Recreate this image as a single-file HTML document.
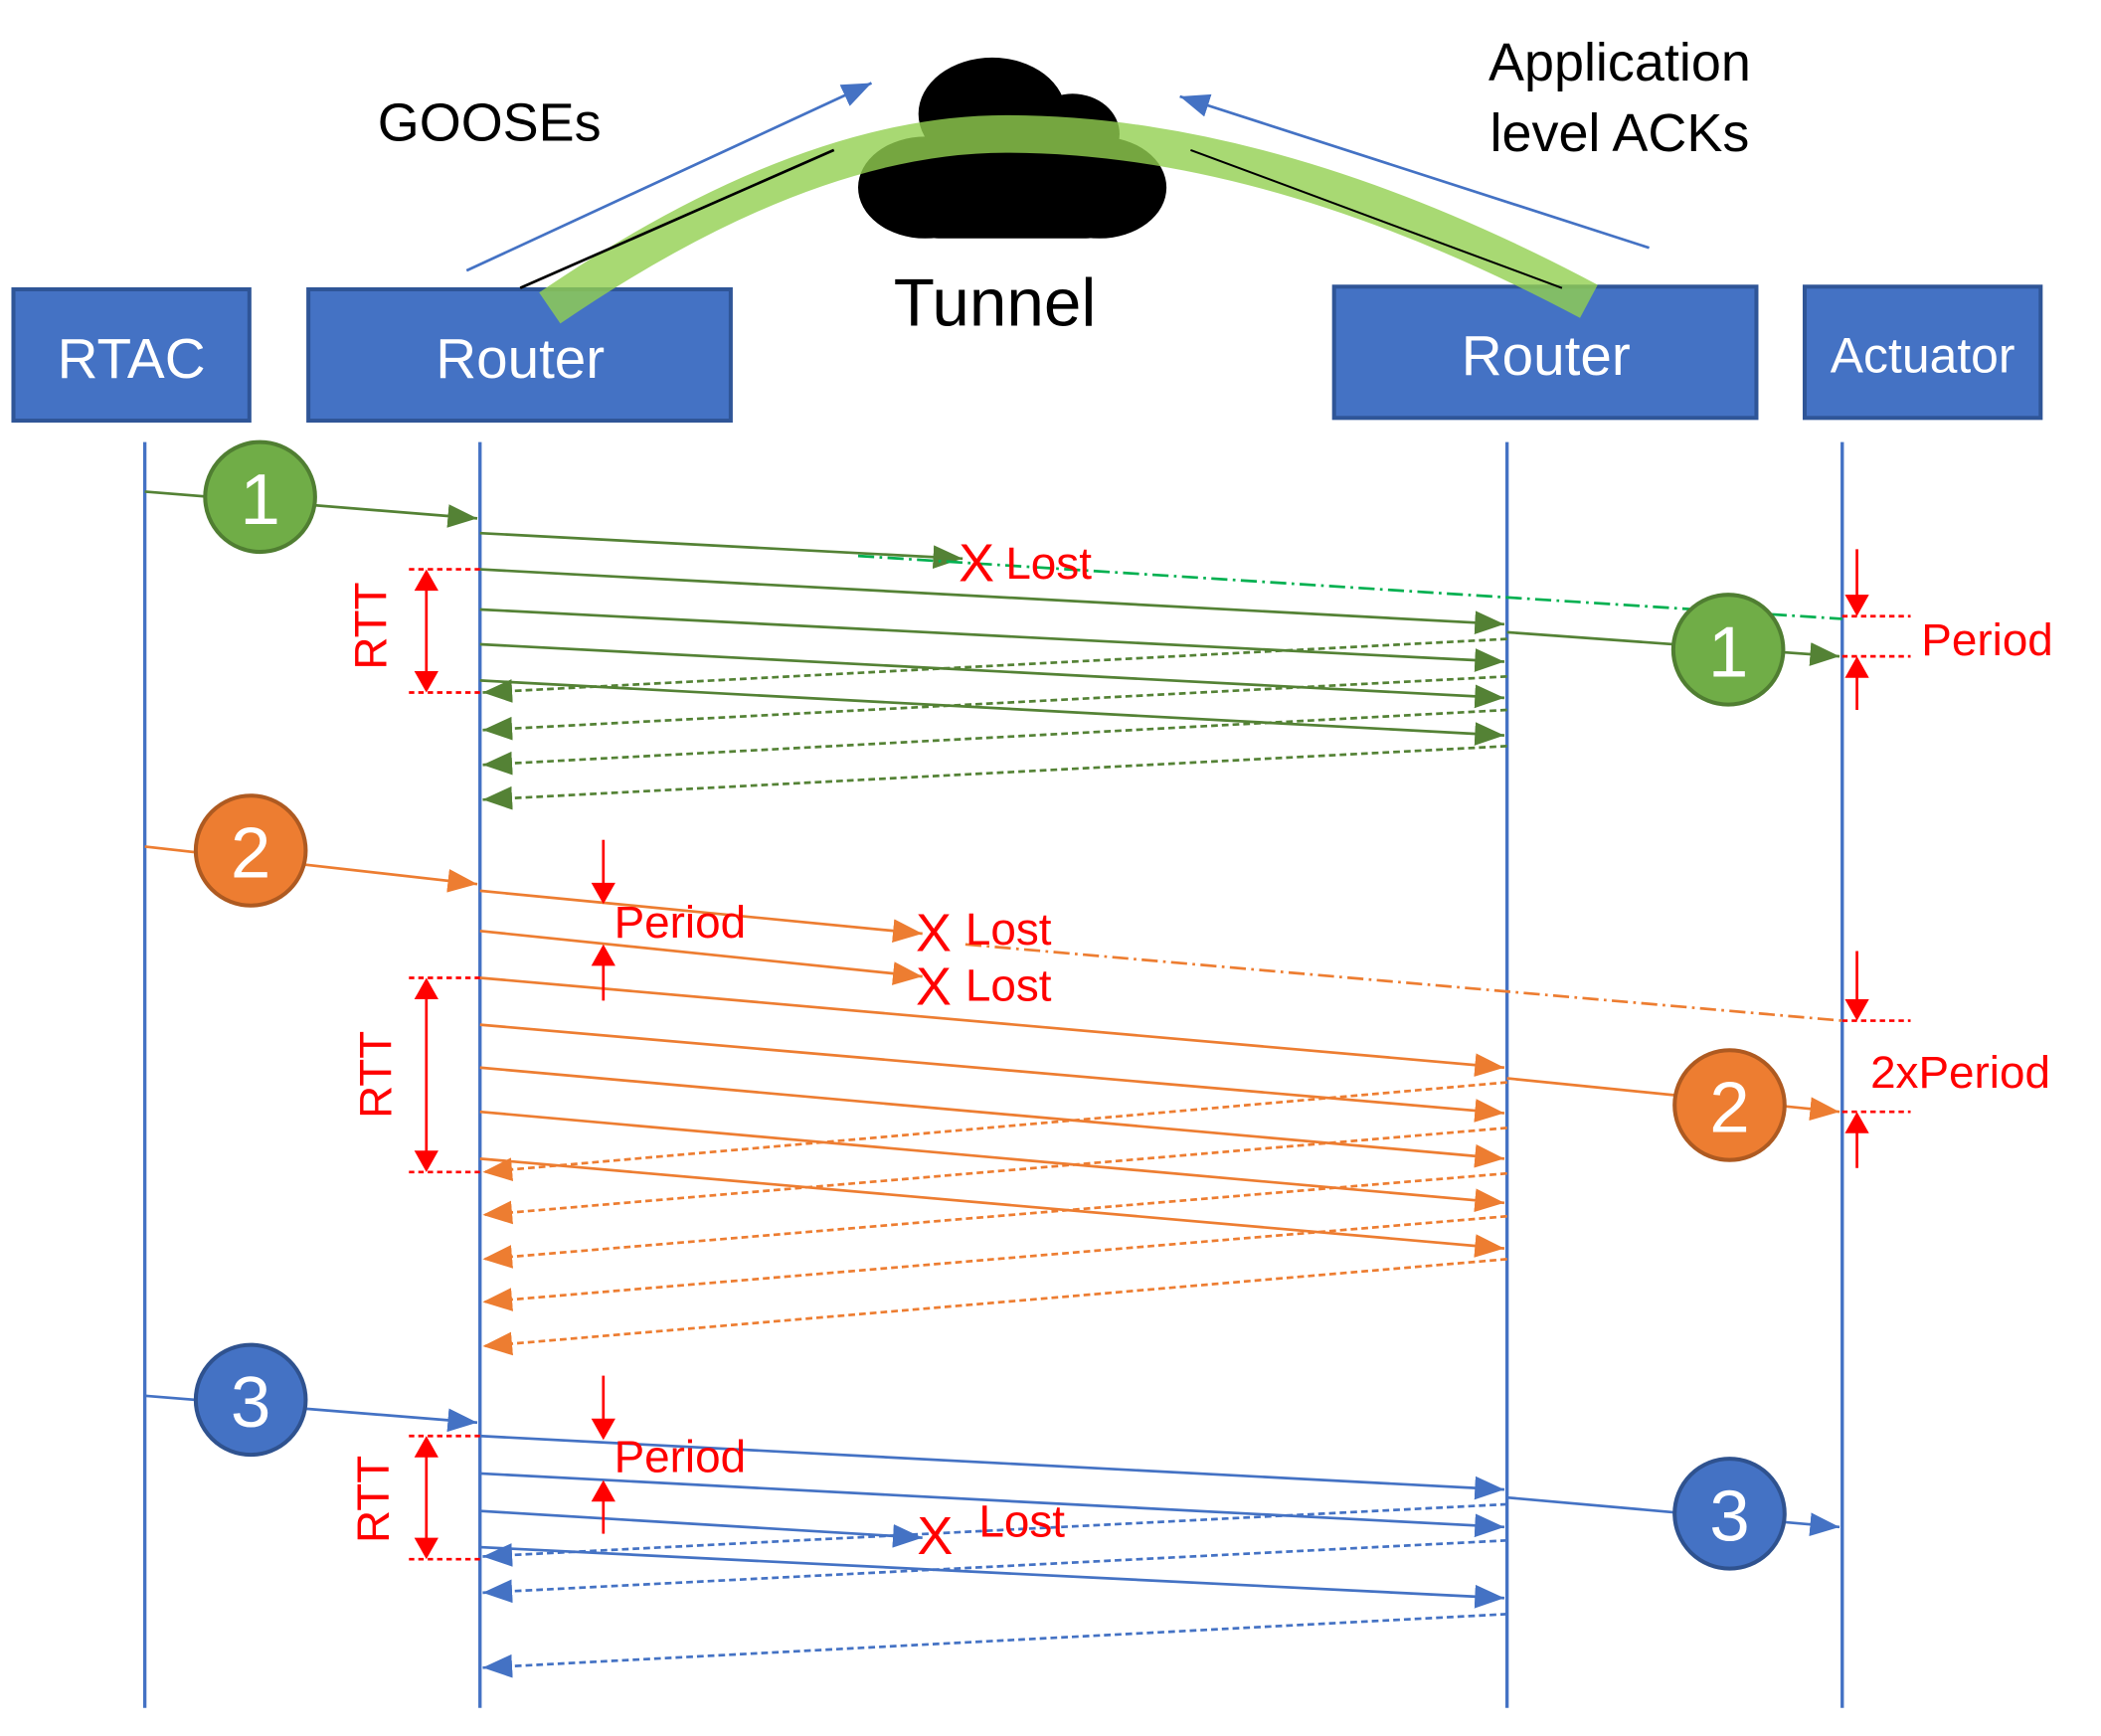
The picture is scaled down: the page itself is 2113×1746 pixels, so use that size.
<!DOCTYPE html>
<html><head><meta charset="utf-8"><style>
html,body{margin:0;padding:0;background:#fff;}
svg{display:block;}
text{font-family:"Liberation Sans",sans-serif;}
</style></head><body>
<svg width="2113" height="1746" viewBox="0 0 1567 1296" preserveAspectRatio="none" xmlns="http://www.w3.org/2000/svg">
<defs>
<marker id="ag2" viewBox="0 0 20 16" markerWidth="22" markerHeight="18" refX="20" refY="8" orient="auto" markerUnits="userSpaceOnUse"><path d="M0,0 L20,8 L0,16z" fill="#548235"/></marker>
<marker id="ao2" viewBox="0 0 20 16" markerWidth="22" markerHeight="18" refX="20" refY="8" orient="auto" markerUnits="userSpaceOnUse"><path d="M0,0 L20,8 L0,16z" fill="#ED7D31"/></marker>
<marker id="ab2" viewBox="0 0 20 16" markerWidth="22" markerHeight="18" refX="20" refY="8" orient="auto" markerUnits="userSpaceOnUse"><path d="M0,0 L20,8 L0,16z" fill="#4472C4"/></marker>
</defs>

<!-- boxes -->
<g fill="#4472C4" stroke="#2F5597" stroke-width="3">
<rect x="10" y="216" width="176" height="98"/>
<rect x="230" y="216" width="315" height="98"/>
<rect x="995" y="214" width="315" height="98"/>
<rect x="1346" y="214" width="176" height="98"/>
</g>
<g fill="#fff" font-size="42" text-anchor="middle">
<text x="98" y="282">RTAC</text>
<text x="388" y="282">Router</text>
<text x="1153" y="280">Router</text>
<text x="1434" y="278" font-size="37">Actuator</text>
</g>

<!-- cloud -->
<g fill="#000">
<ellipse cx="740" cy="85" rx="55" ry="42"/>
<ellipse cx="800" cy="100" rx="35" ry="30"/>
<ellipse cx="690" cy="140" rx="50" ry="38"/>
<ellipse cx="820" cy="140" rx="50" ry="38"/>
<rect x="680" y="110" width="150" height="68" rx="20"/>
</g>
<path d="M410,230 Q600,100 750,100 Q950,100 1185,225" fill="none" stroke="#92D050" stroke-width="28" opacity="0.8"/>
<line x1="388" y1="215" x2="622" y2="112" stroke="#000" stroke-width="2"/>
<line x1="888" y1="112" x2="1165" y2="215" stroke="#000" stroke-width="1.5"/>
<line x1="348" y1="202" x2="650" y2="62" stroke="#4472C4" stroke-width="2" marker-end="url(#ab2)"/>
<line x1="1230" y1="185" x2="880" y2="72" stroke="#4472C4" stroke-width="2" marker-end="url(#ab2)"/>
<text x="742" y="243" font-size="50" text-anchor="middle">Tunnel</text>
<text x="365" y="105" font-size="40" text-anchor="middle">GOOSEs</text>
<text x="1208" y="60" font-size="40" text-anchor="middle">Application</text>
<text x="1208" y="113" font-size="40" text-anchor="middle">level ACKs</text>

<!-- lifelines -->
<g stroke="#4472C4" stroke-width="2.5">
<line x1="108" y1="330" x2="108" y2="1275"/>
<line x1="358" y1="330" x2="358" y2="1275"/>
<line x1="1124" y1="330" x2="1124" y2="1275"/>
<line x1="1374" y1="330" x2="1374" y2="1275"/>
</g>

<!-- GREEN -->
<g stroke="#548235" stroke-width="2" fill="none">
<line x1="108" y1="367" x2="356" y2="387" marker-end="url(#ag2)"/>
<line x1="358" y1="398" x2="718" y2="417" marker-end="url(#ag2)"/>
<line x1="358" y1="425" x2="1122" y2="466" marker-end="url(#ag2)"/>
<line x1="358" y1="455" x2="1122" y2="494" marker-end="url(#ag2)"/>
<line x1="358" y1="481" x2="1122" y2="521" marker-end="url(#ag2)"/>
<line x1="358" y1="508" x2="1122" y2="549" marker-end="url(#ag2)"/>
<line x1="1124" y1="472" x2="1372" y2="490" marker-end="url(#ag2)"/>
<g stroke-dasharray="5,3">
<line x1="1124" y1="477" x2="360" y2="517" marker-end="url(#ag2)"/>
<line x1="1124" y1="505" x2="360" y2="545" marker-end="url(#ag2)"/>
<line x1="1124" y1="530" x2="360" y2="571" marker-end="url(#ag2)"/>
<line x1="1124" y1="557" x2="360" y2="597" marker-end="url(#ag2)"/>
</g>
</g>
<line x1="640" y1="415" x2="1374" y2="462" stroke="#00B050" stroke-width="2" stroke-dasharray="12,4,2,4"/>
<circle cx="194" cy="371" r="41" fill="#70AD47" stroke="#507E32" stroke-width="3"/>
<text x="194" y="391" font-size="54" fill="#fff" text-anchor="middle">1</text>
<circle cx="1289" cy="485" r="41" fill="#70AD47" stroke="#507E32" stroke-width="3"/>
<text x="1289" y="505" font-size="54" fill="#fff" text-anchor="middle">1</text>

<!-- ORANGE -->
<g stroke="#ED7D31" stroke-width="2" fill="none">
<line x1="108" y1="632" x2="356" y2="660" marker-end="url(#ao2)"/>
<line x1="358" y1="665" x2="688" y2="697" marker-end="url(#ao2)"/>
<line x1="358" y1="695" x2="688" y2="729" marker-end="url(#ao2)"/>
<line x1="358" y1="730" x2="1122" y2="797" marker-end="url(#ao2)"/>
<line x1="358" y1="765" x2="1122" y2="831" marker-end="url(#ao2)"/>
<line x1="358" y1="797" x2="1122" y2="865" marker-end="url(#ao2)"/>
<line x1="358" y1="830" x2="1122" y2="898" marker-end="url(#ao2)"/>
<line x1="358" y1="865" x2="1122" y2="932" marker-end="url(#ao2)"/>
<line x1="1124" y1="805" x2="1372" y2="830" marker-end="url(#ao2)"/>
<g stroke-dasharray="5,3">
<line x1="1124" y1="808" x2="360" y2="875" marker-end="url(#ao2)"/>
<line x1="1124" y1="842" x2="360" y2="907" marker-end="url(#ao2)"/>
<line x1="1124" y1="876" x2="360" y2="940" marker-end="url(#ao2)"/>
<line x1="1124" y1="908" x2="360" y2="972" marker-end="url(#ao2)"/>
<line x1="1124" y1="940" x2="360" y2="1005" marker-end="url(#ao2)"/>
</g>
<line x1="720" y1="705" x2="1374" y2="762" stroke-dasharray="12,4,2,4"/>
</g>
<circle cx="187" cy="635" r="41" fill="#ED7D31" stroke="#AE5A21" stroke-width="3"/>
<text x="187" y="655" font-size="54" fill="#fff" text-anchor="middle">2</text>
<circle cx="1290" cy="825" r="41" fill="#ED7D31" stroke="#AE5A21" stroke-width="3"/>
<text x="1290" y="845" font-size="54" fill="#fff" text-anchor="middle">2</text>

<!-- BLUE -->
<g stroke="#4472C4" stroke-width="2" fill="none">
<line x1="108" y1="1042" x2="356" y2="1062" marker-end="url(#ab2)"/>
<line x1="358" y1="1072" x2="1122" y2="1112" marker-end="url(#ab2)"/>
<line x1="358" y1="1100" x2="1122" y2="1140" marker-end="url(#ab2)"/>
<line x1="358" y1="1128" x2="688" y2="1148" marker-end="url(#ab2)"/>
<line x1="358" y1="1155" x2="1122" y2="1193" marker-end="url(#ab2)"/>
<line x1="1124" y1="1118" x2="1372" y2="1140" marker-end="url(#ab2)"/>
<g stroke-dasharray="5,3">
<line x1="1124" y1="1123" x2="360" y2="1162" marker-end="url(#ab2)"/>
<line x1="1124" y1="1150" x2="360" y2="1189" marker-end="url(#ab2)"/>
<line x1="1124" y1="1205" x2="360" y2="1245" marker-end="url(#ab2)"/>
</g>
</g>
<circle cx="187" cy="1045" r="41" fill="#4472C4" stroke="#2F528F" stroke-width="3"/>
<text x="187" y="1065" font-size="54" fill="#fff" text-anchor="middle">3</text>
<circle cx="1290" cy="1130" r="41" fill="#4472C4" stroke="#2F528F" stroke-width="3"/>
<text x="1290" y="1150" font-size="54" fill="#fff" text-anchor="middle">3</text>

<!-- RED annotations -->
<g stroke="#FF0000" stroke-width="2" fill="none">
<line x1="318" y1="438" x2="318" y2="504"/>
<line x1="305" y1="425" x2="358" y2="425" stroke-dasharray="4,3"/>
<line x1="305" y1="517" x2="358" y2="517" stroke-dasharray="4,3"/>
<line x1="318" y1="743" x2="318" y2="862"/>
<line x1="305" y1="730" x2="358" y2="730" stroke-dasharray="4,3"/>
<line x1="305" y1="875" x2="358" y2="875" stroke-dasharray="4,3"/>
<line x1="318" y1="1085" x2="318" y2="1151"/>
<line x1="305" y1="1072" x2="358" y2="1072" stroke-dasharray="4,3"/>
<line x1="305" y1="1164" x2="358" y2="1164" stroke-dasharray="4,3"/>

<line x1="1385" y1="410" x2="1385" y2="448"/>
<line x1="1385" y1="530" x2="1385" y2="502"/>
<line x1="1374" y1="460" x2="1425" y2="460" stroke-dasharray="4,3"/>
<line x1="1374" y1="490" x2="1425" y2="490" stroke-dasharray="4,3"/>
<line x1="1385" y1="710" x2="1385" y2="750"/>
<line x1="1385" y1="872" x2="1385" y2="842"/>
<line x1="1374" y1="762" x2="1425" y2="762" stroke-dasharray="4,3"/>
<line x1="1374" y1="830" x2="1425" y2="830" stroke-dasharray="4,3"/>

<line x1="450" y1="627" x2="450" y2="663"/>
<line x1="450" y1="747" x2="450" y2="717"/>
<line x1="450" y1="1027" x2="450" y2="1063"/>
<line x1="450" y1="1145" x2="450" y2="1117"/>
</g>
<g fill="#FF0000">
<!-- RTT heads -->
<path d="M318,425 l-9,16 h18z"/><path d="M318,517 l-9,-16 h18z"/>
<path d="M318,730 l-9,16 h18z"/><path d="M318,875 l-9,-16 h18z"/>
<path d="M318,1072 l-9,16 h18z"/><path d="M318,1164 l-9,-16 h18z"/>
<!-- right Period heads -->
<path d="M1385,460 l-9,-16 h18z"/><path d="M1385,490 l-9,16 h18z"/>
<path d="M1385,762 l-9,-16 h18z"/><path d="M1385,830 l-9,16 h18z"/>
<!-- middle Period heads -->
<path d="M450,675 l-9,-16 h18z"/><path d="M450,705 l-9,16 h18z"/>
<path d="M450,1075 l-9,-16 h18z"/><path d="M450,1105 l-9,16 h18z"/>
</g>
<g fill="#FF0000" font-size="34">
<text transform="translate(288,500) rotate(-90)">RTT</text>
<text transform="translate(292,835) rotate(-90)">RTT</text>
<text transform="translate(290,1152) rotate(-90)">RTT</text>
<text x="1433" y="489">Period</text>
<text x="1395" y="812">2xPeriod</text>
<text x="458" y="700">Period</text>
<text x="458" y="1099">Period</text>
<text x="715" y="434" font-size="40">X</text><text x="750" y="432">Lost</text>
<text x="683" y="710" font-size="40">X</text><text x="720" y="705">Lost</text>
<text x="683" y="750" font-size="40">X</text><text x="720" y="747">Lost</text>
<text x="684" y="1160" font-size="40">X</text><text x="730" y="1147">Lost</text>
</g>
</svg>
</body></html>
